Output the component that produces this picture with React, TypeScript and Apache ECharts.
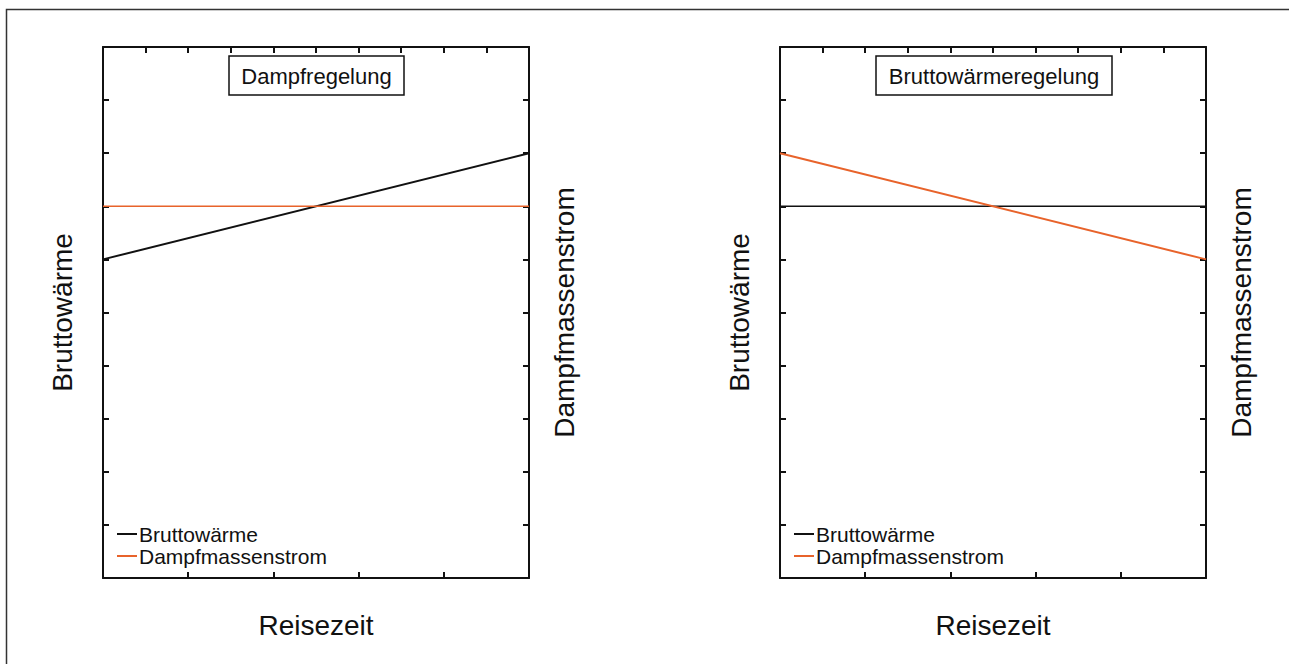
import React, { useEffect, useRef } from "react";
import * as echarts from "echarts";

const xPoints = [0, 5];
const dampfBrutto = [6, 8];
const dampfDampf = [7, 7];
const bruttoBrutto = [7, 7];
const bruttoDampf = [8, 6];
const panelTitles = ["Dampfregelung", "Bruttowärmeregelung"];
const seriesNames = ["Bruttowärme", "Dampfmassenstrom"];
const xName = "Reisezeit";

const FONT = "Liberation Sans, Arial, Helvetica, sans-serif";
const BLACK = "#111111";
const ORANGE = "#E8632B";

const pairs = (ys: number[]) => xPoints.map((x, i) => [x, ys[i]]);

export default function App() {
  const ref = useRef<HTMLDivElement>(null);
  useEffect(() => {
    if (!ref.current) return;
    const chart = echarts.init(ref.current, null, { renderer: "svg" });
    const gridLefts = [103, 780];
    const gw = 426;
    const axisLine = { show: true, onZero: false, lineStyle: { color: BLACK, width: 2 } };
    const tick = { show: true, inside: true, length: 6, lineStyle: { color: BLACK, width: 2 } };
    const xAxes: any[] = [];
    const yAxes: any[] = [];
    gridLefts.forEach((_, g) => {
      xAxes.push({
        type: "value", gridIndex: g, position: "bottom", min: 0, max: 5, interval: 1,
        axisLine, axisTick: tick, axisLabel: { show: false }, splitLine: { show: false },
        name: xName, nameLocation: "middle", nameGap: 33,
        nameTextStyle: { fontSize: 28, color: BLACK, fontFamily: FONT },
      });
      xAxes.push({
        type: "value", gridIndex: g, position: "top", min: 0, max: 5, interval: 0.5,
        axisLine, axisTick: tick, axisLabel: { show: false }, splitLine: { show: false },
      });
      yAxes.push({
        type: "value", gridIndex: g, position: "left", min: 0, max: 10, interval: 1,
        axisLine, axisTick: tick, axisLabel: { show: false }, splitLine: { show: false },
        name: seriesNames[0], nameLocation: "middle", nameGap: 27, nameRotate: 90,
        nameTextStyle: { fontSize: 28, color: BLACK, fontFamily: FONT },
      });
      yAxes.push({
        type: "value", gridIndex: g, position: "right", min: 0, max: 10, interval: 1,
        axisLine, axisTick: tick, axisLabel: { show: false }, splitLine: { show: false },
        name: seriesNames[1], nameLocation: "middle", nameGap: 21, nameRotate: 90,
        nameTextStyle: { fontSize: 28, color: BLACK, fontFamily: FONT },
      });
    });
    const data = [
      [dampfBrutto, dampfDampf],
      [bruttoBrutto, bruttoDampf],
    ];
    const series: any[] = [];
    data.forEach((pair, g) => {
      series.push({
        type: "line", name: seriesNames[0], xAxisIndex: g * 2, yAxisIndex: g * 2,
        data: pairs(pair[0]), symbol: "none", z: 3,
        lineStyle: { color: BLACK, width: g === 0 ? 2 : 1.5 }, itemStyle: { color: BLACK },
      });
      series.push({
        type: "line", name: seriesNames[1], xAxisIndex: g * 2, yAxisIndex: g * 2 + 1,
        data: pairs(pair[1]), symbol: "none", z: 4,
        lineStyle: { color: ORANGE, width: g === 0 ? 1.5 : 2 }, itemStyle: { color: ORANGE },
      });
    });
    const legends = gridLefts.map((l) => ({
      left: l + 14, top: 523, orient: "vertical", itemGap: 0, itemWidth: 20, itemHeight: 2,
      icon: "rect", padding: 0, selectedMode: false,
      data: seriesNames,
      textStyle: { fontSize: 21, color: BLACK, fontFamily: FONT, lineHeight: 22, padding: [0, 0, 0, -3] },
    }));
    const graphics: any[] = [
      {
        type: "polyline", silent: true,
        shape: { points: [[6.5, 664], [6.5, 9.5], [1289, 9.5]] },
        style: { stroke: "#333", lineWidth: 1.5, fill: null },
      },
    ];
    const boxes = [
      { x: 229, w: 175 },
      { x: 876, w: 236 },
    ];
    boxes.forEach((b, i) => {
      graphics.push({
        type: "rect", z: 100,
        shape: { x: b.x, y: 56, width: b.w, height: 39 },
        style: { fill: "#fff", stroke: BLACK, lineWidth: 1.5 },
      });
      graphics.push({
        type: "text", z: 101, x: b.x + b.w / 2, y: 76,
        style: { text: panelTitles[i], fontSize: 22, fontFamily: FONT, fill: BLACK, align: "center", verticalAlign: "middle" },
      });
    });
    chart.setOption({
      animation: false,
      backgroundColor: "#fff",
      grid: gridLefts.map((l) => ({ left: l, top: 47, width: gw, height: 531 })),
      xAxis: xAxes,
      yAxis: yAxes,
      legend: legends,
      series,
      graphic: graphics,
    });
    return () => chart.dispose();
  }, []);
  return <div ref={ref} style={{ position: "fixed", left: 0, top: 0, width: 1289, height: 664 }} />;
}
